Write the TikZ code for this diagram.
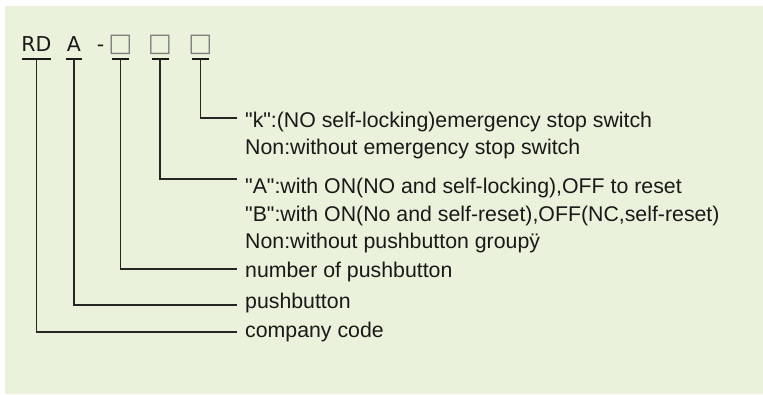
\documentclass[tikz,border=0pt]{standalone}
\usepackage{fontspec}
\setmainfont{Liberation Sans}[Ligatures=TeXOff]
\newfontfamily\codefont{DejaVu Sans}
\definecolor{bg}{HTML}{EAF2DB}
\tikzset{
  lbl/.style={anchor=base west,inner sep=0pt,font=\fontsize{21.3}{25}\selectfont,text=black!90},
  code/.style={anchor=base,inner sep=0pt,font=\codefont\fontsize{20.5}{24}\selectfont,text=black!90},
  box/.style={anchor=base,inner sep=0pt,font=\codefont\fontsize{25.5}{29}\selectfont,text=black!50},
  uline/.style={line width=2pt,black!90},
  lead/.style={line width=1.1pt,black!85}
}

\begin{document}
\begin{tikzpicture}[x=1pt,y=-1pt]
        \useasboundingbox (0,0) rectangle (763,394);
        \fill[bg] (5,6) rectangle (763,394);
        % the code
        \node[code] (RD) at (36.5,51) {RD};
        \node[code] (A) at (74,51) {A};
        \node[code] (dash) at (100.5,51) {-};
        \node[box] (b1) at (120.5,51) {□};
        \node[box] (b2) at (160,51) {□};
        \node[box] (b3) at (200.5,51) {□};
        \foreach \n/\w in {RD/14.5,A/8,b1/8.5,b2/8.5,b3/8.5}
          \draw[uline] ([xshift=-\w pt]\n.south |- 0,58.5) -- ([xshift=\w pt]\n.south |- 0,58.5);
        % the meanings
        \node[lbl] (k) at (245,127) {"k":(NO self-locking)emergency stop switch};
        \node[lbl] (kn) at (245,154) {Non:without emergency stop switch};
        \node[lbl] (ta) at (245,193) {"A":with ON(NO and self-locking),OFF to reset};
        \node[lbl] (tb) at (245,221) {"B":with ON(No and self-reset),OFF(NC,self-reset)};
        \node[lbl] (tn) at (245,248) {Non:without pushbutton groupÿ};
        \node[lbl] (num) at (245,277) {number of pushbutton};
        \node[lbl] (pb) at (245,308) {pushbutton};
        \node[lbl] (cc) at (245,337) {company code};
        \coordinate (ek) at (237,118);
        \coordinate (eta) at (237,179);
        \coordinate (enum) at (237,269);
        \coordinate (epb) at (237,305);
        \coordinate (ecc) at (237,332);
        \draw[lead] (b3.south |- 0,58.5) |- (ek);
        \draw[lead] (b2.south |- 0,58.5) |- (eta);
        \draw[lead] (b1.south |- 0,58.5) |- (enum);
        \draw[lead] (A.south |- 0,58.5) |- (epb);
        \draw[lead] (RD.south |- 0,58.5) |- (ecc);
      \end{tikzpicture}
\end{document}
